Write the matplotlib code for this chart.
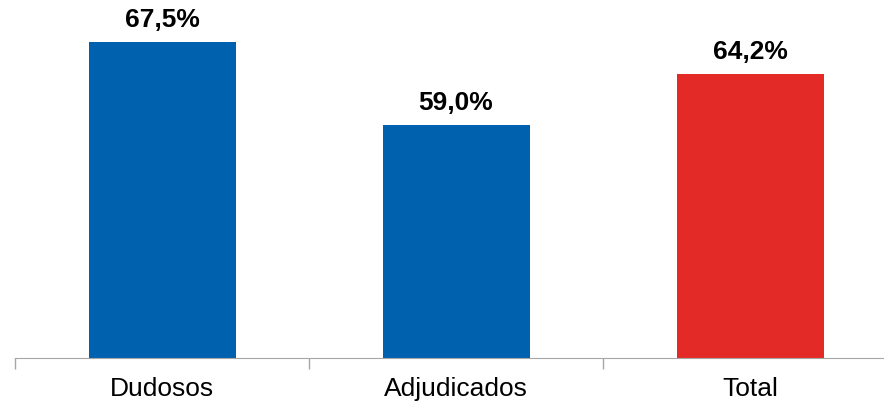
import matplotlib
matplotlib.use("Agg")
import matplotlib.pyplot as plt
import numpy as np

categories = ["Dudosos", "Adjudicados", "Total"]
values = [67.5, 59.0, 64.2]
value_labels = ["67,5%", "59,0%", "64,2%"]
colors = ["#0061AE", "#0061AE", "#E42A27"]

plt.rcParams["font.family"] = ["Liberation Sans", "DejaVu Sans"]

fig = plt.figure(figsize=(8.84, 4.05), dpi=100)
ax = fig.add_axes([15 / 884, 47 / 405, 882 / 884, 358 / 405])

x = np.arange(len(categories))
bars = ax.bar(x, values, width=0.5, color=colors, zorder=2)

for b, lab in zip(bars, value_labels):
    ax.annotate(lab, (b.get_x() + b.get_width() / 2, b.get_height()),
                xytext=(0, 7), textcoords="offset points",
                ha="center", va="bottom", fontsize=19, fontweight="bold")

ax.set_xlim(-0.5, 2.5)
ax.set_ylim(35, 71.8)
ax.set_xticks(x)
ax.set_xticklabels(categories, fontsize=19)
ax.tick_params(axis="x", which="major", length=0, pad=14)
ax.set_xticks([-0.5, 0.5, 1.5, 2.5], minor=True)
ax.tick_params(axis="x", which="minor", length=8, color="#A6A6A6", width=1)
ax.set_yticks([])

for s in ["top", "right", "left"]:
    ax.spines[s].set_visible(False)
ax.spines["bottom"].set_color("#A6A6A6")
ax.spines["bottom"].set_clip_on(False)

fig.savefig("out.png", dpi=100)
